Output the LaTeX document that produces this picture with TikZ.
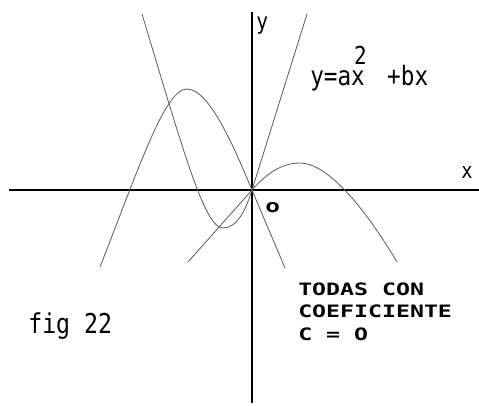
\documentclass[tikz,border=0pt]{standalone}
\usepackage{fontspec}
\newfontfamily\monof[FakeStretch=0.85]{DejaVu Sans Mono}
\newfontfamily\monob[FakeStretch=1.36]{DejaVu Sans Mono}
\tikzset{
  axisline/.style={line width=1.5pt, black},
  curveline/.style={line width=0.6pt, black!65},
  lbl/.style={inner sep=0pt, anchor=base west, text=black},
  capt/.style={lbl, font=\monob\bfseries\fontsize{12.8pt}{12.8pt}\selectfont}
}
\begin{document}
\begin{tikzpicture}[x=0.75pt,y=-0.75pt]
\useasboundingbox (0,0) rectangle (479,405);
% axes
\coordinate (xl) at (9,190);
\coordinate (xr) at (479,190);
\coordinate (yt) at (252,12);
\coordinate (yb) at (252,403);
\coordinate (O) at (252,190);
\draw[axisline] (xl) -- (xr);
\draw[axisline] (yt) -- (yb);
% parabola opening up (steep)
\coordinate (u1) at (142,14);
\coordinate (umin) at (223,228);
\coordinate (u2) at (307,14);
\draw[curveline] (u1) .. controls (185,157) and (205,228) .. (umin)
  .. controls (238,228) and (246.5,207.6) .. (O) -- (u2);
% big hump
\coordinate (h1) at (100,267);
\coordinate (hpk) at (187,89);
\coordinate (h2) at (285,268);
\draw[curveline] (h1) .. controls (140,165) and (165,89) .. (hpk)
  .. controls (210,89) and (235.5,151) .. (O) -- (h2);
% small hump
\coordinate (s1) at (188,262);
\coordinate (spk) at (300,163);
\coordinate (s2) at (397,262);
\draw[curveline] (s1) -- (O) .. controls (264.8,175.6) and (280,163) .. (spk)
  .. controls (325,163) and (360,200) .. (s2);
% labels
\node[lbl, font=\monof\fontsize{17.3pt}{17.3pt}\selectfont] (ylab) at (256,29) {y};
\node[lbl, font=\monof\fontsize{16.5pt}{16.5pt}\selectfont] (xlab) at (461,178) {x};
\node[lbl, font=\monob\bfseries\fontsize{13.5pt}{13.5pt}\selectfont] (olab) at (265,212) {o};
\node[lbl, font=\monof\fontsize{20pt}{20pt}\selectfont] (eq) at (310,85)
  {y=ax\kern-8pt\raisebox{15.75pt}{\fontsize{18.5pt}{18.5pt}\selectfont 2}\kern15.3pt+bx};
\node[lbl, font=\monof\fontsize{20.5pt}{20.5pt}\selectfont] (fig) at (28,333) {fig 22};
\node[capt] (c1) at (298,295) {TODAS CON};
\node[capt] (c2) at (298,317) {COEFICIENTE};
\node[capt] (c3) at (298,340) {C = O};
\end{tikzpicture}
\end{document}
